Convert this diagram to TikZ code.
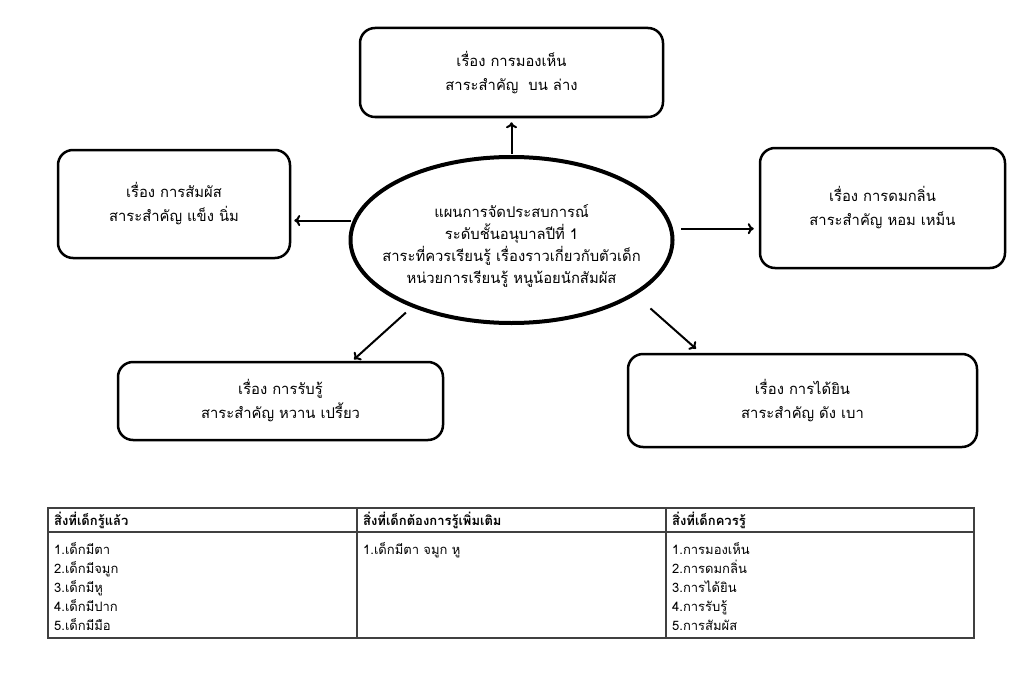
\documentclass[tikz,border=0pt]{standalone}
\usepackage{fontspec}
\newfontfamily\thaifont[Script=Thai]{Loma}
\usetikzlibrary{arrows.meta,shapes.geometric}
\begin{document}
\begin{tikzpicture}[x=1pt,y=-1pt,font=\thaifont\fontsize{14.8}{24}\selectfont,
  box/.style={draw,line width=2.5pt,rounded corners=15pt,align=center,inner sep=0pt},
  hub/.style={draw,ellipse,line width=4pt,inner sep=0pt,minimum width=322pt,minimum height=166pt},
  arr/.style={-{To[length=6pt,width=11pt]},line width=2pt},
  grid/.style={draw=black!75,line width=1.5pt},
  cell/.style={anchor=north west,align=left,inner sep=0pt,font=\thaifont\fontsize{13}{19}\selectfont}]
  \useasboundingbox (0,0) rectangle (1024,674);
  % ellipse in the middle and the five topics round it
  \node[hub] (plan) at (511.5,240) {};
  \node[align=center,font=\thaifont\fontsize{14.8}{22}\selectfont] (plantext) at (511.5,246)
    {แผนการจัดประสบการณ์\\ระดับชั้นอนุบาลปีที่ 1\\สาระที่ควรเรียนรู้ เรื่องราวเกี่ยวกับตัวเด็ก\\หน่วยการเรียนรู้ หนูน้อยนักสัมผัส};
  \node[box,minimum width=303pt,minimum height=89pt] (see)   at (511.5,72.5) {เรื่อง การมองเห็น\\สาระสำคัญ\ \ บน ล่าง};
  \node[box,minimum width=232pt,minimum height=108pt] (touch) at (174,204)   {เรื่อง การสัมผัส\\สาระสำคัญ แข็ง นิ่ม};
  \node[box,minimum width=245pt,minimum height=120pt] (smell) at (882.5,208) {เรื่อง การดมกลิ่น\\สาระสำคัญ หอม เหม็น};
  \node[box,minimum width=325pt,minimum height=78pt]  (taste) at (280.5,401) {เรื่อง การรับรู้\\สาระสำคัญ หวาน เปรี้ยว};
  \node[box,minimum width=349pt,minimum height=93pt]  (hear)  at (802.5,400.5) {เรื่อง การได้ยิน\\สาระสำคัญ ดัง เบา};
  \draw[arr,shorten <=1pt,shorten >=4pt] (plan.north) -- (see.south);
  \draw[arr,shorten <=2pt,shorten >=3pt] (plan.173) -- (plan.173 -| touch.east);
  \draw[arr,shorten <=8pt,shorten >=5pt] (plan.4) -- (plan.4 -| smell.west);
  \draw[arr,shorten <=8pt,shorten >=2pt] (plan.214) -- ([xshift=72pt]taste.north);
  \draw[arr,shorten <=20pt,shorten >=6pt] (plan.336) -- ([xshift=-102pt]hear.north);
  % table below
  \coordinate (tl) at (48,508);
  \coordinate (br) at (974,638);
  \draw[grid] (tl) rectangle (br);
  \draw[grid] (48,532) -- (974,532);
  \draw[grid] (357,508) -- (357,638);
  \draw[grid] (666,508) -- (666,638);
  \node[cell,font=\thaifont\bfseries\fontsize{13}{19}\selectfont] (h1) at (54,512) {สิ่งที่เด็กรู้แล้ว};
  \node[cell,font=\thaifont\bfseries\fontsize{13}{19}\selectfont] (h2) at (363,512) {สิ่งที่เด็กต้องการรู้เพิ่มเติม};
  \node[cell,font=\thaifont\bfseries\fontsize{13}{19}\selectfont] (h3) at (672,512) {สิ่งที่เด็กควรรู้};
  \node[cell] (c1) at (54,542) {1.เด็กมีตา\\2.เด็กมีจมูก\\3.เด็กมีหู\\4.เด็กมีปาก\\5.เด็กมีมือ};
  \node[cell] (c2) at (363,542) {1.เด็กมีตา จมูก หู};
  \node[cell] (c3) at (672,542) {1.การมองเห็น\\2.การดมกลิ่น\\3.การได้ยิน\\4.การรับรู้\\5.การสัมผัส};
\end{tikzpicture}
\end{document}
